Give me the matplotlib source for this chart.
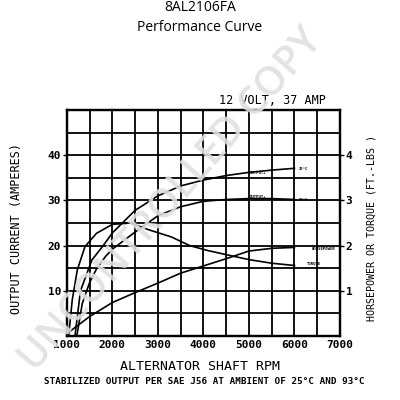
import matplotlib
matplotlib.use("Agg")
import matplotlib.pyplot as plt

# output current (A) vs shaft rpm
rpm_hot25 = [1180, 1300, 1550, 1800, 2000, 2500, 3000, 3500, 4000, 4500, 5000, 5500, 6000]
amps_25c = [0, 10, 16.8, 20, 22.8, 27.8, 31.0, 33.2, 34.5, 35.5, 36.2, 36.7, 37.1]

rpm_hot93 = [1220, 1340, 1500, 1650, 1850, 2000, 2500, 3000, 3500, 4000, 4500, 5000, 5500, 6000]
amps_93c = [0, 7.2, 11.8, 14.8, 17.6, 19.2, 23.0, 26.6, 28.6, 29.8, 30.2, 30.4, 30.4, 30.2]

# torque (ft-lbs) and horsepower, right axis
rpm_torque = [1040, 1120, 1230, 1400, 1650, 2000, 2400, 2800, 3300, 3700, 4100, 4500, 5000, 5500, 6000]
torque = [0, 0.8, 1.46, 1.98, 2.27, 2.47, 2.5, 2.35, 2.19, 2.0, 1.89, 1.8, 1.69, 1.61, 1.56]

rpm_hp = [1000, 1500, 2000, 2500, 3000, 3500, 4000, 4500, 5000, 5500, 6000]
hp = [0.05, 0.43, 0.74, 0.96, 1.17, 1.39, 1.55, 1.71, 1.88, 1.94, 1.96]

xticks = [1000, 2000, 3000, 4000, 5000, 6000, 7000]
left_ticks = [10, 20, 30, 40]
right_ticks = [1, 2, 3, 4]

mono = "DejaVu Sans Mono"

fig = plt.figure(figsize=(4, 4), dpi=100)
ax = fig.add_axes([0.167, 0.16, 0.683, 0.565])

ax.set_xlim(1000, 7000)
ax.set_ylim(0, 50)
ax.set_xticks(xticks)
ax.set_xticks(range(1000, 7001, 500), minor=True)
ax.set_yticks(left_ticks)
ax.set_yticks(range(0, 51, 5), minor=True)
ax.grid(True, which="both", color="black", linewidth=1.3)
ax.set_axisbelow(True)
for s in ax.spines.values():
    s.set_linewidth(1.6)
ax.tick_params(axis="x", which="both", length=0, pad=3, labelsize=8)
ax.tick_params(axis="y", which="minor", length=0)
ax.tick_params(axis="y", which="major", length=3, width=1, pad=1, labelsize=8)
for lab in ax.get_xticklabels() + ax.get_yticklabels():
    lab.set_family(mono)
    lab.set_weight("bold")

ax.plot(rpm_hot25, amps_25c, color="black", lw=1.2, zorder=3)
ax.plot(rpm_hot93, amps_93c, color="black", lw=1.2, zorder=3)

ax2 = ax.twinx()
ax2.set_ylim(0, 5)
ax2.set_yticks(right_ticks)
ax2.tick_params(axis="y", length=3, width=1, pad=1, labelsize=8)
for lab in ax2.get_yticklabels():
    lab.set_family(mono)
    lab.set_weight("bold")
for s in ax2.spines.values():
    s.set_linewidth(1.6)
ax2.plot(rpm_torque, torque, color="black", lw=1.2, zorder=3)
ax2.plot(rpm_hp, hp, color="black", lw=1.2, zorder=3)

small = dict(fontsize=2.8, family=mono, weight="bold", color="black")
ax.text(5200, 36.0, "OUTPUT+", ha="center", va="center", **small)
ax.text(6100, 37.0, "25°C", ha="left", va="center", **small)
ax.text(5200, 30.8, "OUTPUT+", ha="center", va="center", **small)
ax.text(6100, 30.0, "93°C", ha="left", va="center", **small)
ax2.text(6650, 1.93, "HORSEPOWER", ha="center", va="center", **small)
ax2.text(6420, 1.60, "TORQUE", ha="center", va="center", **small)

fig.text(0.5, 0.982, "8AL2106FA", ha="center", va="center", fontsize=10, family="Open Sans")
fig.text(0.5, 0.932, "Performance Curve", ha="center", va="center", fontsize=10, family="Open Sans")
fig.text(0.68, 0.748, "12 VOLT, 37 AMP", ha="center", va="center", fontsize=8.5, family=mono)
fig.text(0.042, 0.43, "OUTPUT CURRENT (AMPERES)", rotation=90, ha="center", va="center",
         fontsize=8.5, family=mono)
fig.text(0.93, 0.43, "HORSEPOWER OR TORQUE (FT.-LBS )", rotation=90, ha="center", va="center",
         fontsize=7.2, family=mono)
fig.text(0.5, 0.085, "ALTERNATOR SHAFT RPM", ha="center", va="center", fontsize=9.5, family=mono)
fig.text(0.51, 0.045, "STABILIZED OUTPUT PER SAE J56 AT AMBIENT OF 25°C AND 93°C",
         ha="center", va="center", fontsize=6.7, family=mono, weight="bold")

# watermark
fig.text(0.43, 0.5, "UNCONTROLLED COPY", rotation=49, ha="center", va="center",
         fontsize=29, family="Open Sans", weight="semibold", color="#e0e0e0", alpha=0.9, zorder=10)

fig.savefig("out.png", dpi=100)
